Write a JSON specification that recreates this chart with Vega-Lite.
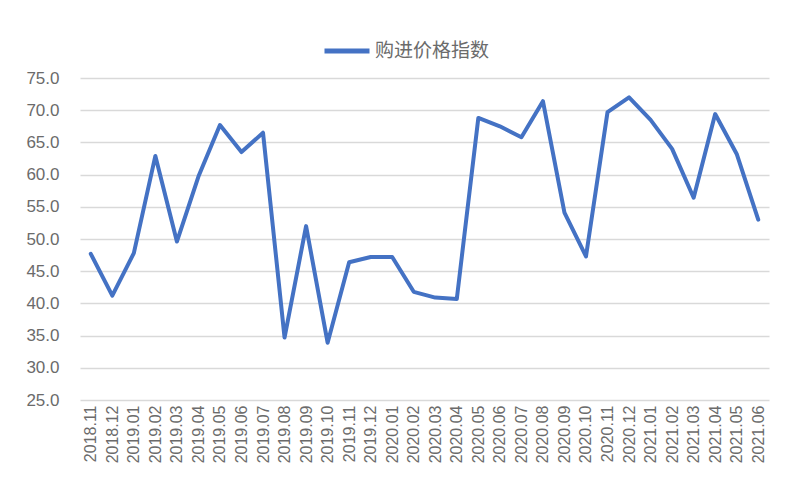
{
  "$schema": "https://vega.github.io/schema/vega-lite/v6.json",
  "width": 689,
  "height": 322,
  "autosize": {"type": "none"},
  "padding": {"left": 80, "top": 78, "right": 31, "bottom": 100},
  "background": "white",
  "data": {
    "values": [
      {"month": "2018.11", "value": 47.7, "series": "购进价格指数"},
      {"month": "2018.12", "value": 41.2, "series": "购进价格指数"},
      {"month": "2019.01", "value": 47.8, "series": "购进价格指数"},
      {"month": "2019.02", "value": 62.9, "series": "购进价格指数"},
      {"month": "2019.03", "value": 49.6, "series": "购进价格指数"},
      {"month": "2019.04", "value": 59.7, "series": "购进价格指数"},
      {"month": "2019.05", "value": 67.7, "series": "购进价格指数"},
      {"month": "2019.06", "value": 63.5, "series": "购进价格指数"},
      {"month": "2019.07", "value": 66.5, "series": "购进价格指数"},
      {"month": "2019.08", "value": 34.7, "series": "购进价格指数"},
      {"month": "2019.09", "value": 52.0, "series": "购进价格指数"},
      {"month": "2019.10", "value": 33.9, "series": "购进价格指数"},
      {"month": "2019.11", "value": 46.4, "series": "购进价格指数"},
      {"month": "2019.12", "value": 47.2, "series": "购进价格指数"},
      {"month": "2020.01", "value": 47.2, "series": "购进价格指数"},
      {"month": "2020.02", "value": 41.8, "series": "购进价格指数"},
      {"month": "2020.03", "value": 40.9, "series": "购进价格指数"},
      {"month": "2020.04", "value": 40.7, "series": "购进价格指数"},
      {"month": "2020.05", "value": 68.8, "series": "购进价格指数"},
      {"month": "2020.06", "value": 67.5, "series": "购进价格指数"},
      {"month": "2020.07", "value": 65.8, "series": "购进价格指数"},
      {"month": "2020.08", "value": 71.4, "series": "购进价格指数"},
      {"month": "2020.09", "value": 54.1, "series": "购进价格指数"},
      {"month": "2020.10", "value": 47.3, "series": "购进价格指数"},
      {"month": "2020.11", "value": 69.7, "series": "购进价格指数"},
      {"month": "2020.12", "value": 72.0, "series": "购进价格指数"},
      {"month": "2021.01", "value": 68.5, "series": "购进价格指数"},
      {"month": "2021.02", "value": 64.0, "series": "购进价格指数"},
      {"month": "2021.03", "value": 56.4, "series": "购进价格指数"},
      {"month": "2021.04", "value": 69.4, "series": "购进价格指数"},
      {"month": "2021.05", "value": 63.2, "series": "购进价格指数"},
      {"month": "2021.06", "value": 53.0, "series": "购进价格指数"}
    ]
  },
  "mark": {"type": "line", "strokeWidth": 4, "strokeJoin": "round", "strokeCap": "round"},
  "encoding": {
    "x": {
      "field": "month",
      "type": "ordinal",
      "sort": null,
      "scale": {"type": "point", "padding": 0.5},
      "axis": {
        "title": null,
        "labelAngle": -90,
        "labelFont": "Liberation Sans",
        "labelFontSize": 16,
        "labelColor": "#6b6b6b",
        "labelPadding": 5,
        "ticks": false,
        "domain": false,
        "grid": false
      }
    },
    "y": {
      "field": "value",
      "type": "quantitative",
      "scale": {"domain": [25, 75], "nice": false, "zero": false},
      "axis": {
        "title": null,
        "values": [25, 30, 35, 40, 45, 50, 55, 60, 65, 70, 75],
        "format": ".1f",
        "labelFont": "Liberation Sans",
        "labelFontSize": 17,
        "labelColor": "#6b6b6b",
        "labelPadding": 21,
        "ticks": false,
        "domain": false,
        "grid": true,
        "gridColor": "#D9D9D9",
        "gridWidth": 1.5
      }
    },
    "color": {
      "field": "series",
      "type": "nominal",
      "scale": {"range": ["#4472C4"]},
      "legend": {
        "title": null,
        "orient": "none",
        "legendX": 242,
        "legendY": -52,
        "symbolType": "stroke",
        "symbolSize": 2025,
        "symbolStrokeWidth": 5,
        "labelFont": "Noto Sans CJK SC",
        "labelFontSize": 19,
        "labelColor": "#6b6b6b",
        "labelOffset": 3
      }
    }
  },
  "config": {"view": {"stroke": null}}
}
